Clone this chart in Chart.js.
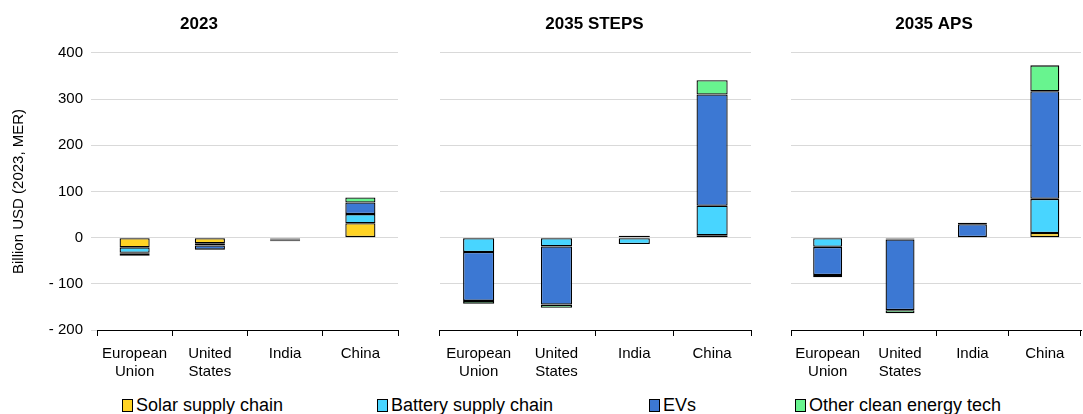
<!DOCTYPE html>
<html>
<head>
<meta charset="utf-8">
<script src="https://cdn.jsdelivr.net/npm/chart.js@4.4.1/dist/chart.umd.min.js"></script>
<style>
  body { margin: 0; background: #fff; font-family: 'Liberation Sans', Arial, sans-serif; }
  #wrap { position: relative; width: 1083px; height: 414px; overflow: hidden; }
  .panel { position: absolute; top: 0; height: 391px; }
  .legend { position: absolute; top: 394px; font-size: 18px; color: #000; white-space: nowrap; line-height: 22px; }
  .legend span.box { display: inline-block; width: 9px; height: 11px; border: 1px solid #000; margin-right: 3px; vertical-align: -1px; }
</style>
</head>
<body>
<div id="wrap">
  <div class="panel" style="left:0;width:400px"><canvas id="c1"></canvas></div>
  <div class="panel" style="left:437px;width:316px"><canvas id="c2"></canvas></div>
  <div class="panel" style="left:786px;width:297px"><canvas id="c3"></canvas></div>
  <div class="legend" style="left:122px"><span class="box" style="background:#FFD324"></span>Solar supply chain</div>
  <div class="legend" style="left:377px"><span class="box" style="background:#48D5FF"></span>Battery supply chain</div>
  <div class="legend" style="left:649px"><span class="box" style="background:#3C78D3"></span>EVs</div>
  <div class="legend" style="left:795px"><span class="box" style="background:#68F48F"></span>Other clean energy tech</div>
</div>
<script>
const categories = [['European', 'Union'], ['United', 'States'], 'India', 'China'];
const seriesNames = ['Solar supply chain', 'Battery supply chain', 'EVs', 'Other clean energy tech'];
const seriesColors = ['#FFD324', '#48D5FF', '#3C78D3', '#68F48F'];

// billion USD, order: EU, US, India, China
const solar2023 = [-21, -12, -2, 31];
const battery2023 = [-12, -5, -2, 20];
const evs2023 = [-1, -9, -3, 25];
const other2023 = [-5, -1, -1, 11];

const solarSteps = [1, 1, 0, 5];
const batterySteps = [-31, -19, -14, 64];
const evsSteps = [-106, -126, 4, 241];
const otherSteps = [-6, -7, 0, 31];

const solarAps = [0, -2, 0, 10];
const batteryAps = [-20, -2, 0, 74];
const evsAps = [-61, -153, 29, 233];
const otherAps = [-5, -7, 3, 56];

const yMin = -200, yMax = 400, yStep = 100;
const font = "'Liberation Sans', Arial, sans-serif";

function makeChart(id, title, series, showY) {
  const ctx = document.getElementById(id).getContext('2d');
  return new Chart(ctx, {
    type: 'bar',
    data: {
      labels: categories,
      datasets: series.map((d, i) => ({
        label: seriesNames[i],
        data: d,
        backgroundColor: seriesColors[i],
        borderColor: '#000',
        borderWidth: 1.3,
        borderSkipped: false,
        barPercentage: 0.4,
        categoryPercentage: 1,
      })),
    },
    options: {
      responsive: true,
      maintainAspectRatio: false,
      animation: false,
      layout: { padding: { left: showY ? 0 : 1, right: 2, top: 0, bottom: 0 } },
      plugins: {
        legend: { display: false },
        tooltip: { enabled: false },
        title: {
          display: true,
          text: title,
          color: '#000',
          font: { family: font, size: 17, weight: 'bold' },
          padding: { top: 14, bottom: 18.5 },
        },
      },
      scales: {
        x: {
          stacked: true,
          afterFit: (s) => { s.height = 61; },
          border: { display: true, color: '#000', width: 1 },
          grid: { display: true, drawOnChartArea: false, color: '#000', tickLength: 6, offset: true },
          ticks: { color: '#000', font: { family: font, size: 15 }, padding: 9, maxRotation: 0 },
        },
        y: {
          stacked: true,
          min: yMin,
          max: yMax,
          afterFit: (s) => { s.width = showY ? 97 : 0; },
          border: { display: false },
          grid: { color: '#d9d9d9', lineWidth: 1, drawTicks: showY, tickLength: 6 },
          title: {
            display: showY,
            text: 'Billion USD (2023, MER)',
            color: '#000',
            font: { family: font, size: 15 },
            padding: { top: 10, bottom: 4 },
          },
          ticks: {
            display: showY,
            stepSize: yStep,
            color: '#000',
            font: { family: font, size: 15 },
            padding: 8,
            callback: (v) => (v < 0 ? '- ' + Math.abs(v) : v),
          },
        },
      },
    },
  });
}

makeChart('c1', '2023', [solar2023, battery2023, evs2023, other2023], true);
makeChart('c2', '2035 STEPS', [solarSteps, batterySteps, evsSteps, otherSteps], false);
makeChart('c3', '2035 APS', [solarAps, batteryAps, evsAps, otherAps], false);
</script>
</body>
</html>
